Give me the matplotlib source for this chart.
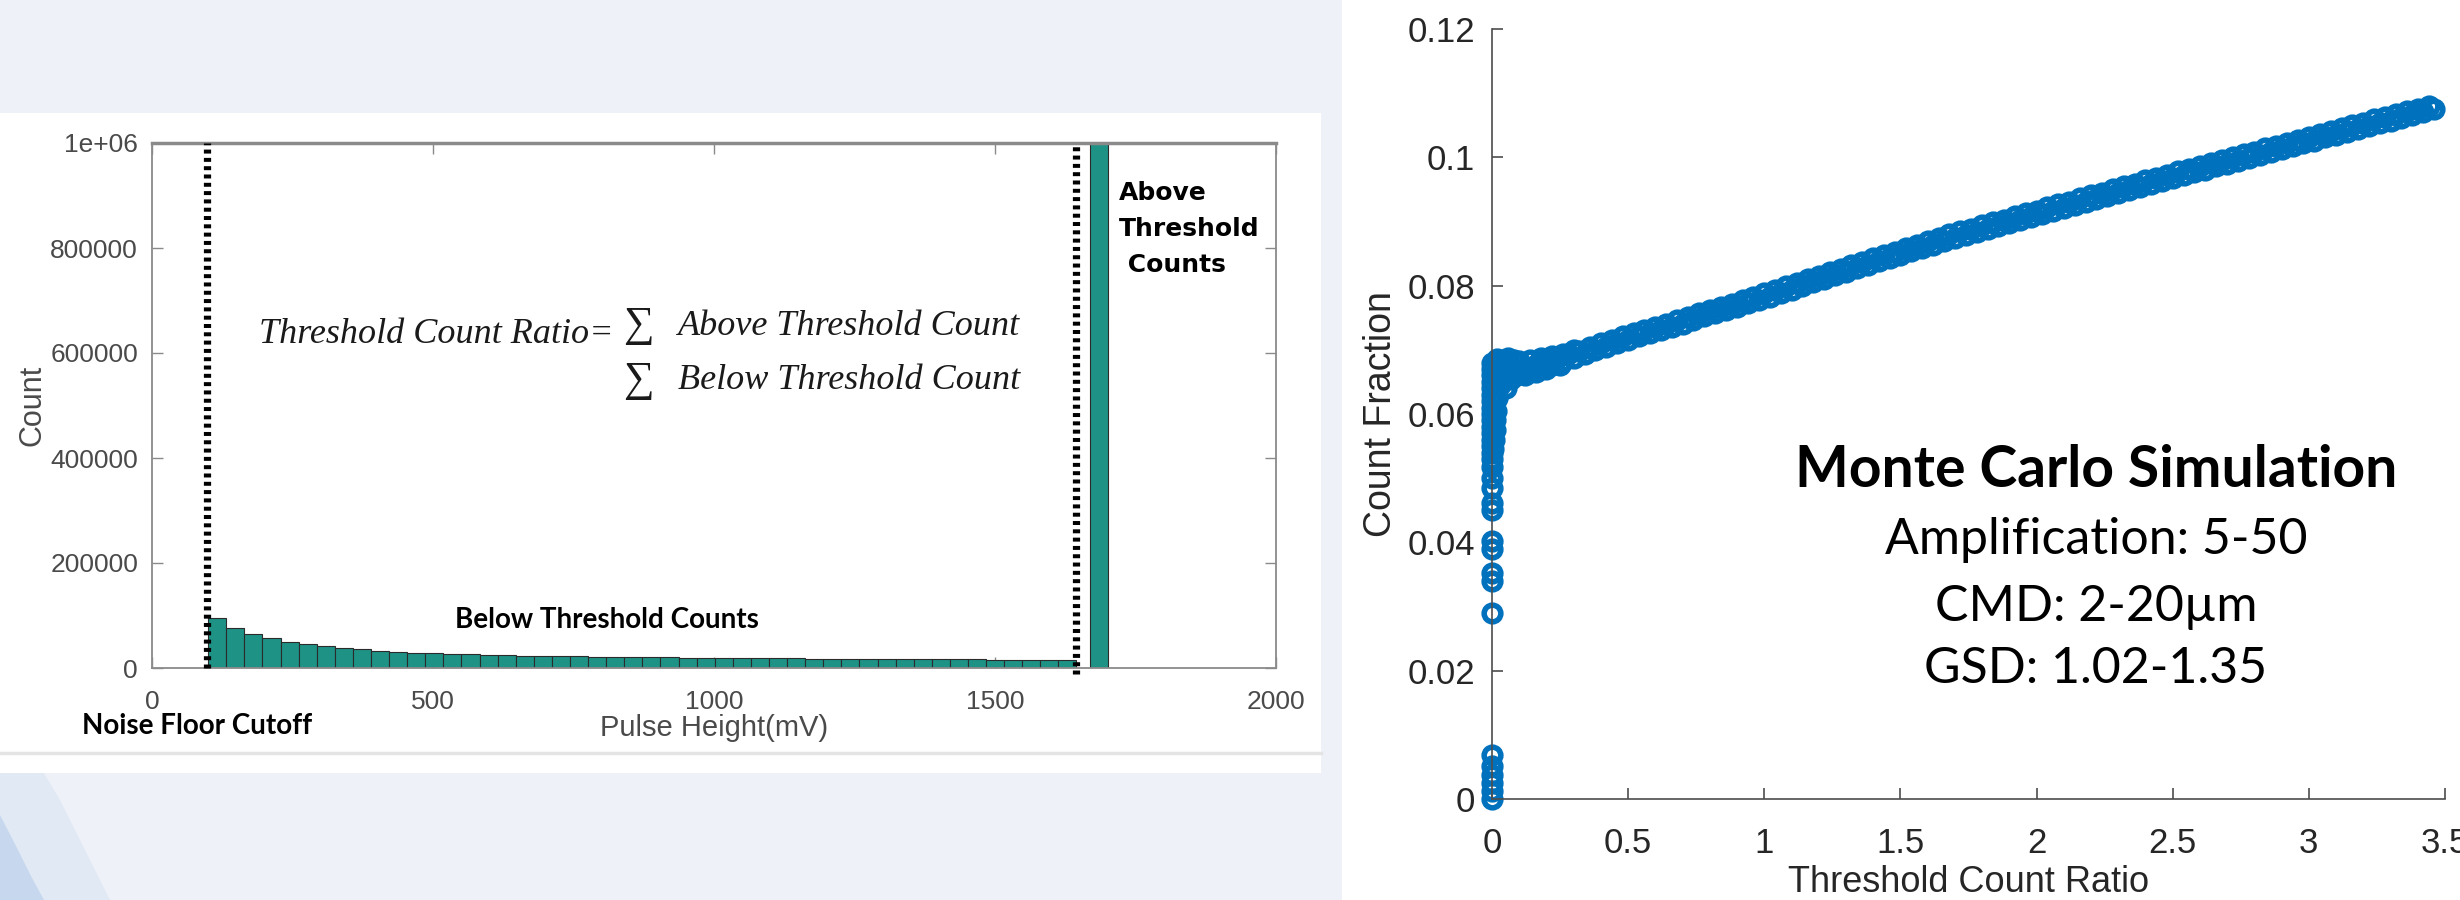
import matplotlib
matplotlib.use("Agg")
import matplotlib.pyplot as plt
import numpy as np
from matplotlib.patches import Rectangle, Polygon
from matplotlib.lines import Line2D

# --- left panel: pulse height histogram -------------------------------------
noise_cutoff = 100      # mV
threshold = 1645        # mV
below_counts = [95000, 77000, 65000, 56500, 49000, 45000, 42000, 38700, 35500, 33000,
                31000, 29200, 27900, 26800, 25800, 25000, 24300, 23700, 23100, 22600,
                22100, 21700, 21300, 20900, 20500, 20200, 19900, 19600, 19300, 19000,
                18700, 18400, 18200, 18000, 17800, 17600, 17400, 17200, 17000, 16800,
                16600, 16400, 16200, 16000, 15800, 15600, 15400, 15200]
above_left, above_right = 1669, 1701
above_count = 1000000

hist_xticks = [0, 500, 1000, 1500, 2000]
hist_yticks = [0, 200000, 400000, 600000, 800000, 1000000]
hist_ylabels = ["0", "200000", "400000", "600000", "800000", "1e+06"]

# --- right panel: Monte Carlo scatter ---------------------------------------
column_y = [0.0, 0.0012, 0.0025, 0.0038, 0.0052, 0.0068, 0.0290, 0.0340, 0.0352,
            0.0390, 0.0402, 0.0450, 0.0462, 0.0485, 0.0500, 0.0518, 0.0530, 0.0540,
            0.0550, 0.0560, 0.0570, 0.0580, 0.0590, 0.0600, 0.0610, 0.0620, 0.0630,
            0.0640, 0.0650, 0.0660, 0.0670, 0.0680]
knee_x = [0.01, 0.015, 0.02, 0.02, 0.03, 0.04, 0.04, 0.06, 0.06, 0.08, 0.08, 0.10,
          0.10, 0.01, 0.03, 0.12, 0.16, 0.05, 0.07, 0.09, 0.02, 0.06, 0.14, 0.18,
          0.22, 0.26, 0.30, 0.20, 0.25, 0.005, 0.012, 0.008]
knee_y = [0.0575, 0.0605, 0.0625, 0.0680, 0.0645, 0.0684, 0.0655, 0.0662, 0.0685,
          0.0668, 0.0684, 0.0664, 0.0682, 0.0660, 0.0670, 0.0660, 0.0665, 0.0640,
          0.0655, 0.0660, 0.0685, 0.0688, 0.0684, 0.0688, 0.0690, 0.0694, 0.0699,
          0.0670, 0.0676, 0.0545, 0.0590, 0.0560]

band_upper_x = [0.12, 0.16, 0.20, 0.24, 0.28, 0.32, 0.36, 0.40, 0.44, 0.48, 0.52, 0.56,
                0.60, 0.64, 0.68, 0.72, 0.76, 0.80, 0.84, 0.88, 0.92, 0.96, 1.00, 1.04,
                1.08, 1.12, 1.16, 1.20, 1.24, 1.28, 1.32, 1.36, 1.40, 1.44, 1.48, 1.52,
                1.56, 1.60, 1.64, 1.68, 1.72, 1.76, 1.80, 1.84, 1.88, 1.92, 1.96, 2.00,
                2.04, 2.08, 2.12, 2.16, 2.20, 2.24, 2.28, 2.32, 2.36, 2.40, 2.44, 2.48,
                2.52, 2.56, 2.60, 2.64, 2.68, 2.72, 2.76, 2.80, 2.84, 2.88, 2.92, 2.96,
                3.00, 3.04, 3.08, 3.12, 3.16, 3.20, 3.24, 3.28, 3.32, 3.36, 3.40, 3.44]
band_upper_y = [0.0672, 0.0677, 0.0682, 0.0687, 0.0693, 0.0698, 0.0704, 0.0710, 0.0716,
                0.0721, 0.0726, 0.0731, 0.0736, 0.0741, 0.0746, 0.0751, 0.0757, 0.0762,
                0.0767, 0.0772, 0.0778, 0.0783, 0.0788, 0.0793, 0.0799, 0.0804, 0.0810,
                0.0815, 0.0821, 0.0826, 0.0832, 0.0837, 0.0843, 0.0848, 0.0853, 0.0859,
                0.0864, 0.0869, 0.0875, 0.0880, 0.0885, 0.0889, 0.0894, 0.0899, 0.0903,
                0.0908, 0.0913, 0.0917, 0.0922, 0.0927, 0.0931, 0.0936, 0.0941, 0.0945,
                0.0950, 0.0955, 0.0959, 0.0964, 0.0968, 0.0973, 0.0978, 0.0982, 0.0987,
                0.0991, 0.0996, 0.1000, 0.1005, 0.1009, 0.1014, 0.1018, 0.1023, 0.1027,
                0.1032, 0.1036, 0.1041, 0.1045, 0.1050, 0.1054, 0.1059, 0.1063, 0.1067,
                0.1072, 0.1076, 0.1080]
band_lower_x = [0.14, 0.18, 0.22, 0.26, 0.30, 0.34, 0.38, 0.42, 0.46, 0.50, 0.54, 0.58,
                0.62, 0.66, 0.70, 0.74, 0.78, 0.82, 0.86, 0.90, 0.94, 0.98, 1.02, 1.06,
                1.10, 1.14, 1.18, 1.22, 1.26, 1.30, 1.34, 1.38, 1.42, 1.46, 1.50, 1.54,
                1.58, 1.62, 1.66, 1.70, 1.74, 1.78, 1.82, 1.86, 1.90, 1.94, 1.98, 2.02,
                2.06, 2.10, 2.14, 2.18, 2.22, 2.26, 2.30, 2.34, 2.38, 2.42, 2.46, 2.50,
                2.54, 2.58, 2.62, 2.66, 2.70, 2.74, 2.78, 2.82, 2.86, 2.90, 2.94, 2.98,
                3.02, 3.06, 3.10, 3.14, 3.18, 3.22, 3.26, 3.30, 3.34, 3.38, 3.42, 3.46]
band_lower_y = [0.0666, 0.0671, 0.0676, 0.0682, 0.0687, 0.0693, 0.0699, 0.0705, 0.0711,
                0.0716, 0.0721, 0.0726, 0.0731, 0.0736, 0.0741, 0.0746, 0.0752, 0.0757,
                0.0762, 0.0767, 0.0773, 0.0778, 0.0783, 0.0788, 0.0794, 0.0799, 0.0805,
                0.0810, 0.0816, 0.0821, 0.0827, 0.0832, 0.0838, 0.0843, 0.0848, 0.0854,
                0.0859, 0.0864, 0.0870, 0.0875, 0.0879, 0.0884, 0.0889, 0.0893, 0.0898,
                0.0903, 0.0907, 0.0912, 0.0917, 0.0921, 0.0926, 0.0931, 0.0935, 0.0940,
                0.0945, 0.0949, 0.0954, 0.0958, 0.0963, 0.0968, 0.0972, 0.0977, 0.0981,
                0.0986, 0.0990, 0.0995, 0.0999, 0.1004, 0.1008, 0.1013, 0.1017, 0.1022,
                0.1026, 0.1031, 0.1035, 0.1040, 0.1044, 0.1049, 0.1053, 0.1057, 0.1062,
                0.1066, 0.1070, 0.1075]

sim_xticks = [0, 0.5, 1, 1.5, 2, 2.5, 3, 3.5]
sim_xlabels = ["0", "0.5", "1", "1.5", "2", "2.5", "3", "3.5"]
sim_yticks = [0, 0.02, 0.04, 0.06, 0.08, 0.1, 0.12]
sim_ylabels = ["0", "0.02", "0.04", "0.06", "0.08", "0.1", "0.12"]

sim_lines = ["Amplification: 5-50", "CMD: 2-20\u00b5m", "GSD: 1.02-1.35"]

TEAL = "#1f9286"
MBLUE = "#0072BD"
W, H = 2460, 900

fig = plt.figure(figsize=(W / 100, H / 100), dpi=100)
fig.patch.set_facecolor("#eef2f8")

# slide background pieces
fig.add_artist(Polygon([(0, 1 - 700 / H), (60 / W, 1 - 800 / H), (110 / W, 0), (0, 0)],
                       closed=True, transform=fig.transFigure,
                       facecolor="#e1e9f5", edgecolor="none", zorder=0))
fig.add_artist(Polygon([(0, 1 - 815 / H), (18 / W, 1 - 850 / H), (32 / W, 1 - 878 / H),
                        (44 / W, 0), (0, 0)], closed=True, transform=fig.transFigure,
                       facecolor="#c6d7ee", edgecolor="none", zorder=0))
fig.add_artist(Rectangle((0, 1 - 773 / H), 1321 / W, 660 / H, transform=fig.transFigure,
                         facecolor="white", edgecolor="none", zorder=0))
fig.add_artist(Rectangle((1342 / W, 0), 1 - 1342 / W, 1, transform=fig.transFigure,
                         facecolor="white", edgecolor="none", zorder=0))
fig.add_artist(Line2D([0, 1321 / W], [1 - 753 / H, 1 - 753 / H], transform=fig.transFigure,
                      color="#e4e4e4", lw=2.5, zorder=0))

# ---------------- left: histogram ----------------
ax = fig.add_axes([152 / W, 1 - 668 / H, 1124 / W, 525 / H])
ax.set_facecolor("white")
edges = np.linspace(noise_cutoff, threshold, len(below_counts) + 1)
ax.bar(edges[:-1], below_counts, width=np.diff(edges), align="edge",
       color=TEAL, edgecolor="#2b2b2b", linewidth=0.8, zorder=2)
ax.bar([above_left], [above_count], width=above_right - above_left, align="edge",
       color=TEAL, edgecolor="#2b2b2b", linewidth=0.8, zorder=2)
for xv, ybot in [(noise_cutoff - 3, 0), (threshold, -12000)]:
    ax.plot([xv, xv], [ybot, 1000000], color="black", lw=5.2,
            linestyle=(0, (0.55, 0.6)), zorder=3, clip_on=False)

ax.set_xlim(0, 2000)
ax.set_ylim(0, 1000000)
ax.set_xticks(hist_xticks)
ax.set_yticks(hist_yticks)
ax.set_yticklabels(hist_ylabels)
for s in ax.spines.values():
    s.set_color("#8a8a8a")
    s.set_linewidth(1.3)
ax.spines["top"].set_linewidth(2.5)
ax.tick_params(direction="in", length=8, width=1, color="#8a8a8a",
               top=True, right=True, labelsize=19, labelcolor="#4a4a4a",
               labelfontfamily="Liberation Sans")
ax.tick_params(axis="x", pad=16)
ax.tick_params(axis="y", pad=10)
ax.set_xlabel("Pulse Height(mV)", fontsize=21, color="#4a4a4a",
              family="Liberation Sans", labelpad=0)
ax.set_ylabel("Count", fontsize=22, color="#4a4a4a", family="Liberation Sans", labelpad=2)

serif = dict(family=["Liberation Serif", "DejaVu Serif"], style="italic", fontsize=26,
             color="#1a1a1a")
ax.text(190, 636000, "Threshold Count Ratio=", va="center", ha="left", **serif)
ax.text(838, 651000, "\u2211", va="center", ha="left", family=["Liberation Serif", "DejaVu Serif"],
        fontsize=31, color="#1a1a1a")
ax.text(838, 547000, "\u2211", va="center", ha="left", family=["Liberation Serif", "DejaVu Serif"],
        fontsize=31, color="#1a1a1a")
ax.text(936, 651000, "Above Threshold Count", va="center", ha="left", **serif)
ax.text(936, 547000, "Below Threshold Count", va="center", ha="left", **serif)

ax.text(539, 91400, "Below Threshold Counts", va="center", ha="left",
        family="Lato", weight="bold", fontsize=20, color="black")
ax.text(-125, -110500, "Noise Floor Cutoff", va="center", ha="left",
        family="Lato", weight="bold", fontsize=20, color="black", clip_on=False)
ax.text(1721, 928000, "Above\nThreshold\n Counts", va="top", ha="left",
        family="DejaVu Sans", weight="bold", fontsize=18, color="black", linespacing=1.65)

# ---------------- right: scatter ----------------
ax2 = fig.add_axes([1492 / W, 1 - 799 / H, 953 / W, 770 / H])
ax2.set_facecolor("none")
mk = dict(marker="o", linestyle="none", mfc="none", mec=MBLUE, ms=12, mew=4.0, clip_on=False)
ax2.plot([0.0] * len(column_y), column_y, **mk)
ax2.plot(knee_x, knee_y, **mk)
ax2.plot(band_upper_x, band_upper_y, **mk)
ax2.plot(band_lower_x, band_lower_y, **mk)

ax2.set_xlim(0, 3.5)
ax2.set_ylim(0, 0.12)
ax2.set_xticks(sim_xticks)
ax2.set_xticklabels(sim_xlabels)
ax2.set_yticks(sim_yticks)
ax2.set_yticklabels(sim_ylabels)
ax2.spines["top"].set_visible(False)
ax2.spines["right"].set_visible(False)
for s in ("left", "bottom"):
    ax2.spines[s].set_color("#4d4d4d")
    ax2.spines[s].set_linewidth(1.2)
ax2.tick_params(direction="in", length=8, width=1.2, color="#4d4d4d", labelsize=25,
                labelcolor="#262626", labelfontfamily="Liberation Sans")
ax2.tick_params(axis="x", pad=20)
ax2.tick_params(axis="y", pad=12)
ax2.set_xlabel("Threshold Count Ratio", fontsize=26, color="#262626",
               family="Liberation Sans", labelpad=4)
ax2.set_ylabel("Count Fraction", fontsize=27, color="#262626",
               family="Liberation Sans", labelpad=6)

ax2.text(2.218, 0.0512, "Monte Carlo Simulation", ha="center", va="center",
         family="Lato", weight="bold", fontsize=41, color="black")
for yv, line in zip([0.0404, 0.0300, 0.0203], sim_lines):
    ax2.text(2.218, yv, line, ha="center", va="center", family="Lato",
             fontsize=36, color="black")

fig.savefig("out.png", dpi=100, facecolor=fig.get_facecolor())
